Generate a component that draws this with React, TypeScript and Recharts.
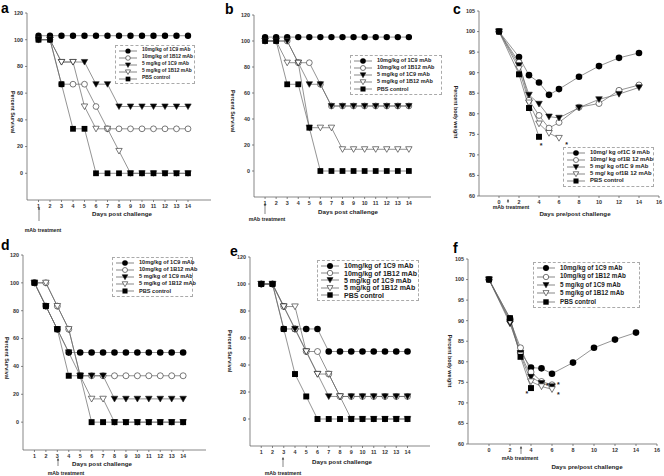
import React from "react";
import { LineChart, Line, XAxis, YAxis, ReferenceDot } from "recharts";

const FONT = "'Liberation Sans', Arial, Helvetica, sans-serif";

// x values
const survivalDays = [1, 2, 3, 4, 5, 6, 7, 8, 9, 10, 11, 12, 13, 14];
const weightDays = [0, 2, 3, 4, 5, 6, 8, 10, 12, 14];

const survivalTicksY = [0, 20, 40, 60, 80, 100, 120];
const weightTicksX = [0, 2, 4, 6, 8, 10, 12, 14, 16];
const weightTicksY = [60, 65, 70, 75, 80, 85, 90, 95, 100, 105];

const legendNames = [
  "10mg/kg of 1C9 mAb",
  "10mg/kg of 1B12 mAb",
  "5 mg/kg of 1C9 mAb",
  "5 mg/kg of 1B12 mAb",
  "PBS control",
];
const legendNamesC = [
  "10mg/ kg of1C 9 mAb",
  "10mg/ kg of1B 12 mAb",
  "5 mg/ kg of1C 9 mAb",
  "5 mg/ kg of1B 12 mAb",
  "PBS control",
];

// a - percent survival
const aHigh1C9 = [103, 103, 103, 103, 103, 103, 103, 103, 103, 103, 103, 103, 103, 103];
const aHigh1B12 = [100, 100, 66.7, 66.7, 66.7, 50, 33.3, 33.3, 33.3, 33.3, 33.3, 33.3, 33.3, 33.3];
const aLow1C9 = [100, 100, 83.3, 83.3, 83.3, 66.7, 66.7, 50, 50, 50, 50, 50, 50, 50];
const aLow1B12 = [100, 100, 83.3, 83.3, 50, 33.3, 33.3, 16.7, 0, 0, 0, 0, 0, 0];
const aPbs = [100, 100, 66.7, 33.3, 33.3, 0, 0, 0, 0, 0, 0, 0, 0, 0];

// b - percent survival
const bHigh1C9 = [103, 103, 103, 103, 103, 103, 103, 103, 103, 103, 103, 103, 103, 103];
const bHigh1B12 = [100, 100, 100, 83.3, 83.3, 66.7, 50, 50, 50, 50, 50, 50, 50, 50];
const bLow1C9 = [100, 100, 100, 83.3, 66.7, 66.7, 50, 50, 50, 50, 50, 50, 50, 50];
const bLow1B12 = [100, 100, 83.3, 83.3, 33.3, 33.3, 33.3, 16.7, 16.7, 16.7, 16.7, 16.7, 16.7, 16.7];
const bPbs = [100, 100, 66.7, 66.7, 33.3, 0, 0, 0, 0, 0, 0, 0, 0, 0];

// c - percent body weight
const cHigh1C9 = [100, 93.8, 89.4, 87.6, 84.6, 86.0, 89.0, 91.6, 93.6, 94.8];
const cHigh1B12 = [100, 92.5, 83.3, 79.6, 76.5, 77.9, 81.6, 82.5, 85.7, 87.0];
const cLow1C9 = [100, 91.8, 84.6, 82.4, 79.3, 79.0, 81.5, 83.5, 84.8, 86.4];
const cLow1B12 = [100, 91.0, 82.7, 77.6, 75.3, 74.1];
const cPbs = [100, 89.6, 81.4, 74.4];
const cStars = [
  { x: 4.2, y: 72.6 },
  { x: 6.75, y: 72.8 },
];

// d - percent survival
const dHigh1C9 = [100, 83.3, 66.7, 50, 50, 50, 50, 50, 50, 50, 50, 50, 50, 50];
const dHigh1B12 = [100, 100, 83.3, 66.7, 33.3, 33.3, 33.3, 33.3, 33.3, 33.3, 33.3, 33.3, 33.3, 33.3];
const dLow1C9 = [100, 83.3, 66.7, 50, 33.3, 33.3, 33.3, 16.7, 16.7, 16.7, 16.7, 16.7, 16.7, 16.7];
const dLow1B12 = [100, 100, 83.3, 66.7, 33.3, 16.7, 16.7, 0, 0, 0, 0, 0, 0, 0];
const dPbs = [100, 83.3, 66.7, 33.3, 33.3, 0, 0, 0, 0, 0, 0, 0, 0, 0];

// e - percent survival
const eHigh1C9 = [100, 100, 66.7, 66.7, 66.7, 66.7, 50, 50, 50, 50, 50, 50, 50, 50];
const eHigh1B12 = [100, 100, 83.3, 66.7, 50, 50, 33.3, 16.7, 16.7, 16.7, 16.7, 16.7, 16.7, 16.7];
const eLow1C9 = [100, 100, 83.3, 66.7, 50, 33.3, 16.7, 16.7, 16.7, 16.7, 16.7, 16.7, 16.7, 16.7];
const eLow1B12 = [100, 100, 83.3, 83.3, 50, 33.3, 33.3, 16.7, 0, 0, 0, 0, 0, 0];
const ePbs = [100, 100, 66.7, 33.3, 16.7, 0, 0, 0, 0, 0, 0, 0, 0, 0];

// f - percent body weight
const fHigh1C9 = [100, 90.5, 82.3, 78.6, 78.4, 77.1, 79.8, 83.4, 85.4, 87.1];
const fHigh1B12 = [100, 90.0, 83.4, 77.5, 75.2, 74.4];
const fLow1C9 = [100, 89.3, 82.1, 76.3, 74.8, 74.0];
const fLow1B12 = [100, 89.7, 81.7, 75.2, 74.0, 73.3];
const fPbs = [100, 90.6, 81.2, 73.6];
const fStars = [
  { x: 3.6, y: 72.6 },
  { x: 5.55, y: 74.5 },
  { x: 6.6, y: 74.7 },
  { x: 6.6, y: 72.4 },
];

const seriesKeys = ["hi1C9", "hi1B12", "lo1C9", "lo1B12", "pbs"];

const buildRows = (xs: number[], series: number[][]) =>
  xs.map((x, i) => {
    const row: any = { x };
    seriesKeys.forEach((k, j) => {
      row[k] = series[j][i] ?? null;
    });
    return row;
  });

function Marker({ kind, cx, cy, s }: { kind: number; cx: number; cy: number; s: number }) {
  if (kind === 0) return <circle cx={cx} cy={cy} r={s} fill="#000" />;
  if (kind === 1)
    return <circle cx={cx} cy={cy} r={s - 0.3} fill="#fff" stroke="#222" strokeWidth={0.6} />;
  if (kind === 2 || kind === 3) {
    const pts = `${cx - s},${cy - s * 0.8} ${cx + s},${cy - s * 0.8} ${cx},${cy + s * 0.95}`;
    return (
      <polygon
        points={pts}
        fill={kind === 2 ? "#000" : "#fff"}
        stroke="#222"
        strokeWidth={0.6}
      />
    );
  }
  return <rect x={cx - s * 0.9} y={cy - s * 0.9} width={s * 1.8} height={s * 1.8} fill="#000" />;
}

const makeDot = (kind: number, s: number) => (props: any) => {
  const { cx, cy, value, index } = props;
  if (value == null || cx == null || cy == null) return <g key={index} />;
  return <Marker key={index} kind={kind} cx={cx} cy={cy} s={s} />;
};

function Legend({ box, names, fs, s }: any) {
  return (
    <div
      style={{
        position: "absolute",
        left: box.l,
        top: box.t,
        width: box.w,
        height: box.h,
        boxSizing: "border-box",
        border: "1px dashed #aaa",
        background: "#fff",
        display: "flex",
        flexDirection: "column",
        justifyContent: "space-around",
        padding: "1px 0 1px 3px",
      }}
    >
      {names.map((n: string, i: number) => (
        <div key={n} style={{ display: "flex", alignItems: "center", height: 6 }}>
          <svg width={18} height={8} style={{ flex: "none" }}>
            <line x1={0} y1={4} x2={18} y2={4} stroke="#555" strokeWidth={0.7} />
            <Marker kind={i} cx={9} cy={4} s={s} />
          </svg>
          <span
            style={{
              marginLeft: 5,
              fontSize: fs,
              fontWeight: 700,
              color: "#222",
              whiteSpace: "nowrap",
              lineHeight: 1,
            }}
          >
            {n}
          </span>
        </div>
      ))}
    </div>
  );
}

function Panel({ cfg }: any) {
  const { box, plot, xDomain, xTicks, yDomain, yTicks, rows, s, stars } = cfg;
  const yW = 20;
  const xH = 14;
  const margin = {
    top: plot.y0 - box.t,
    bottom: box.t + box.h - plot.y1 - xH,
    left: plot.x0 - box.l - yW,
    right: box.l + box.w - plot.x1,
  };
  const tick = { fontSize: 5.4, fontWeight: 700, fill: "#333", fontFamily: FONT };
  const axis = { stroke: "#555", strokeWidth: 0.7 };
  return (
    <div style={{ position: "absolute", left: box.l, top: box.t }}>
      <LineChart width={box.w} height={box.h} data={rows} margin={margin}>
        <XAxis
          type="number"
          dataKey="x"
          domain={xDomain}
          ticks={xTicks}
          interval={0}
          allowDataOverflow
          height={xH}
          tickSize={2}
          tickMargin={2}
          tick={tick}
          axisLine={axis}
          tickLine={axis}
        />
        <YAxis
          type="number"
          domain={yDomain}
          ticks={yTicks}
          interval={0}
          allowDataOverflow
          width={yW}
          tickSize={2}
          tickMargin={2}
          tick={tick}
          axisLine={axis}
          tickLine={axis}
        />
        {seriesKeys.map((k, i) => (
          <Line
            key={k}
            dataKey={k}
            type="linear"
            stroke="#666"
            strokeWidth={0.7}
            dot={makeDot(i, s)}
            activeDot={false}
            isAnimationActive={false}
          />
        ))}
        {(stars || []).map((st: any, i: number) => (
          <ReferenceDot
            key={i}
            x={st.x}
            y={st.y}
            r={0}
            ifOverflow="visible"
            shape={(p: any) => (
              <text
                x={p.cx}
                y={p.cy + 3.8}
                textAnchor="middle"
                fontSize={7}
                fontWeight={700}
                fontFamily={FONT}
                fill="#222"
              >
                *
              </text>
            )}
          />
        ))}
      </LineChart>
    </div>
  );
}

const panels = [
  {
    id: "a",
    box: { l: 0, t: 0, w: 220, h: 236 },
    plot: { x0: 27, x1: 211, y0: 13, y1: 200 },
    xDomain: [0, 16],
    xTicks: survivalDays,
    yDomain: [-20, 120],
    yTicks: survivalTicksY,
    rows: buildRows(survivalDays, [aHigh1C9, aHigh1B12, aLow1C9, aLow1B12, aPbs]),
    s: 3.2,
    legend: { box: { l: 115, t: 45, w: 80, h: 39 }, names: legendNames, fs: 4.9, s: 2.6 },
    letter: { x: 1, y: 13 },
    yLabel: { text: "Percent Survival", x: 13, y: 112 },
    xLabel: { text: "Days post challenge", x: 122, y: 214 },
    mab: { x: 43, y: 230, ax: 39, ay1: 221, ay2: 207 },
  },
  {
    id: "b",
    box: { l: 220, t: 0, w: 220, h: 236 },
    plot: { x0: 254, x1: 431, y0: 15, y1: 197 },
    xDomain: [0, 16],
    xTicks: survivalDays,
    yDomain: [-20, 120],
    yTicks: survivalTicksY,
    rows: buildRows(survivalDays, [bHigh1C9, bHigh1B12, bLow1C9, bLow1B12, bPbs]),
    s: 3.2,
    legend: { box: { l: 350, t: 55, w: 92, h: 40 }, names: legendNames, fs: 5.5, s: 2.8 },
    letter: { x: 225, y: 14 },
    yLabel: { text: "Percent Survival", x: 233, y: 111 },
    xLabel: { text: "Days post challenge", x: 348, y: 212 },
    mab: { x: 267, y: 219, ax: 265, ay1: 214, ay2: 203 },
  },
  {
    id: "c",
    box: { l: 440, t: 0, w: 224, h: 236 },
    plot: { x0: 479, x1: 659, y0: 11, y1: 196 },
    xDomain: [-2, 16],
    xTicks: weightTicksX,
    yDomain: [60, 105],
    yTicks: weightTicksY,
    rows: buildRows(weightDays, [cHigh1C9, cHigh1B12, cLow1C9, cLow1B12, cPbs]),
    s: 3.3,
    stars: cStars,
    legend: { box: { l: 563, t: 147, w: 91, h: 40 }, names: legendNamesC, fs: 5.9, s: 2.8 },
    letter: { x: 453, y: 14 },
    yLabel: { text: "Percent body weight", x: 456, y: 112 },
    xLabel: { text: "Days pre/post challenge", x: 575, y: 214 },
    mab: { x: 511, y: 207, ax: 508, ay1: 203, ay2: 199 },
  },
  {
    id: "d",
    box: { l: 0, t: 236, w: 220, h: 240 },
    plot: { x0: 23, x1: 206, y0: 255, y1: 450 },
    xDomain: [0, 16],
    xTicks: survivalDays,
    yDomain: [-20, 120],
    yTicks: survivalTicksY,
    rows: buildRows(survivalDays, [dHigh1C9, dHigh1B12, dLow1C9, dLow1B12, dPbs]),
    s: 3.3,
    legend: { box: { l: 112, t: 257, w: 81, h: 40 }, names: legendNames, fs: 5.6, s: 2.8 },
    letter: { x: 1, y: 250 },
    yLabel: { text: "Percent Survival", x: 7, y: 358 },
    xLabel: { text: "Days post challenge", x: 102, y: 464 },
    mab: { x: 66, y: 473, ax: 58, ay1: 466, ay2: 458 },
  },
  {
    id: "e",
    box: { l: 220, t: 236, w: 220, h: 240 },
    plot: { x0: 250, x1: 430, y0: 257, y1: 446 },
    xDomain: [0, 16],
    xTicks: survivalDays,
    yDomain: [-20, 120],
    yTicks: survivalTicksY,
    rows: buildRows(survivalDays, [eHigh1C9, eHigh1B12, eLow1C9, eLow1B12, ePbs]),
    s: 3.3,
    legend: { box: { l: 317, t: 260, w: 102, h: 41 }, names: legendNames, fs: 7, s: 3 },
    letter: { x: 230, y: 256 },
    yLabel: { text: "Percent Survival", x: 230, y: 351 },
    xLabel: { text: "Days post challenge", x: 342, y: 462 },
    mab: { x: 283, y: 473, ax: 283, ay1: 467, ay2: 457 },
  },
  {
    id: "f",
    box: { l: 440, t: 236, w: 224, h: 240 },
    plot: { x0: 468, x1: 657, y0: 259, y1: 444 },
    xDomain: [-2, 16],
    xTicks: weightTicksX,
    yDomain: [60, 105],
    yTicks: weightTicksY,
    rows: buildRows(weightDays, [fHigh1C9, fHigh1B12, fLow1C9, fLow1B12, fPbs]),
    s: 3.3,
    stars: fStars,
    legend: { box: { l: 533, t: 262, w: 107, h: 46 }, names: legendNames, fs: 6.3, s: 3 },
    letter: { x: 453, y: 253 },
    yLabel: { text: "Percent body weight", x: 450, y: 361 },
    xLabel: { text: "Days pre/post challenge", x: 587, y: 467 },
    mab: { x: 520, y: 458, ax: 521, ay1: 454, ay2: 446 },
  },
];

export default function App() {
  return (
    <div
      style={{
        position: "absolute",
        left: 0,
        top: 0,
        width: 664,
        height: 476,
        background: "#fff",
        fontFamily: FONT,
        overflow: "hidden",
      }}
    >
      {panels.map((p) => (
        <Panel key={p.id} cfg={p} />
      ))}
      <svg
        width={664}
        height={476}
        style={{ position: "absolute", left: 0, top: 0, pointerEvents: "none" }}
        fontFamily={FONT}
        fontWeight={700}
      >
        {panels.map((p) => (
          <g key={p.id}>
            <text x={p.letter.x} y={p.letter.y} fontSize={14} fill="#000">
              {p.id}
            </text>
            <text
              x={p.yLabel.x}
              y={p.yLabel.y}
              fontSize={5.4}
              fill="#222"
              textAnchor="middle"
              dominantBaseline="central"
              transform={`rotate(90 ${p.yLabel.x} ${p.yLabel.y})`}
            >
              {p.yLabel.text}
            </text>
            <text x={p.xLabel.x} y={p.xLabel.y + 2} fontSize={6.2} fill="#222" textAnchor="middle">
              {p.xLabel.text}
            </text>
            <text x={p.mab.x} y={p.mab.y + 2} fontSize={5.2} fill="#222" textAnchor="middle">
              mAb treatment
            </text>
            <line
              x1={p.mab.ax}
              y1={p.mab.ay1}
              x2={p.mab.ax}
              y2={p.mab.ay2 + 2}
              stroke="#333"
              strokeWidth={0.6}
            />
            <polygon
              points={`${p.mab.ax - 1.2},${p.mab.ay2 + 2.5} ${p.mab.ax + 1.2},${p.mab.ay2 + 2.5} ${p.mab.ax},${p.mab.ay2}`}
              fill="#333"
            />
          </g>
        ))}
      </svg>
      {panels.map((p) => (
        <Legend key={p.id} {...p.legend} />
      ))}
    </div>
  );
}
